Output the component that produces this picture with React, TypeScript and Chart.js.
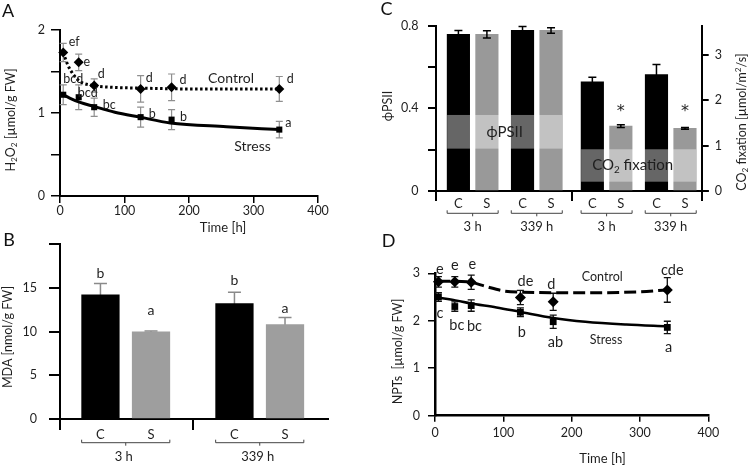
import React, { useEffect, useRef } from 'react';
import { Chart, registerables } from 'chart.js';

Chart.register(...registerables);

const FONT = 'Lato, "Open Sans", "DejaVu Sans", sans-serif';
Chart.defaults.font.family = FONT;
const INK = '#1f1f1f';
const W = 750;
const H = 466;

// ---------------- data ----------------
const sampleHours = [5, 29, 53, 125, 173, 340];
const timeTicks = [0, 100, 200, 300, 400];
const memberLabels = ['C', 'S'];

// A: H2O2
const h2o2Control = [1.73, 1.61, 1.33, 1.29, 1.31, 1.29];
const h2o2ControlErr = [0.11, 0.1, 0.08, 0.16, 0.16, 0.15];
const h2o2ControlLetters = ['ef', 'e', 'd', 'd', 'd', 'd'];
const h2o2Stress = [1.22, 1.19, 1.07, 0.95, 0.92, 0.8];
const h2o2StressErr = [0.12, 0.15, 0.11, 0.12, 0.12, 0.1];
const h2o2StressLetters = ['bcd', 'bcd', 'bc', 'b', 'b', 'a'];
const h2o2ControlFitHours = [5, 12, 21, 31, 52, 80, 125, 200, 340];
const h2o2ControlFit = [1.73, 1.58, 1.46, 1.38, 1.33, 1.31, 1.3, 1.29, 1.29];
const h2o2StressFitHours = [5, 15, 30, 52, 85, 124, 171, 258, 340];
const h2o2StressFit = [1.22, 1.18, 1.13, 1.08, 1.01, 0.95, 0.88, 0.835, 0.8];

// B: MDA
const mdaGroups = ['3 h', '339 h'];
const mdaControl = [14.2, 13.2];
const mdaControlErr = [1.3, 1.3];
const mdaStress = [9.95, 10.8];
const mdaStressErr = [0.1, 0.8];
const mdaControlLetters = ['b', 'b'];
const mdaStressLetters = ['a', 'a'];

// C: PhiPSII and CO2 fixation
const photoGroups = ['3 h', '339 h'];
const phiControl = [0.758, 0.777];
const phiControlErr = [0.019, 0.019];
const phiStress = [0.758, 0.777];
const phiStressErr = [0.017, 0.013];
const co2Control = [2.41, 2.57];
const co2ControlErr = [0.1, 0.22];
const co2Stress = [1.43, 1.38];
const co2StressErr = [0.03, 0.02];
const co2StressMarks = ['*', '*'];
const phiBandRange = [0.205, 0.368]; // left-axis units
const co2BandRange = [0.045, 0.202]; // left-axis units

// D: NPTs
const nptControl = [2.82, 2.82, 2.81, 2.49, 2.4, 2.65];
const nptControlErr = [0.11, 0.11, 0.15, 0.15, 0.18, 0.26];
const nptControlLetters = ['e', 'e', 'e', 'de', 'd', 'cde'];
const nptStress = [2.5, 2.3, 2.32, 2.18, 1.98, 1.86];
const nptStressErr = [0.09, 0.1, 0.12, 0.09, 0.14, 0.13];
const nptStressLetters = ['c', 'bc', 'bc', 'b', 'ab', 'a'];
const nptControlFitHours = [5, 30, 53, 75, 100, 130, 200, 300, 340];
const nptControlFit = [2.83, 2.83, 2.81, 2.72, 2.63, 2.6, 2.59, 2.61, 2.65];
const nptStressFitHours = [5, 30, 51, 90, 124, 173, 220, 280, 340];
const nptStressFit = [2.49, 2.43, 2.37, 2.28, 2.19, 2.06, 1.98, 1.92, 1.88];

// ---------------- layout (not data) ----------------
type Box = { left: number; top: number; right: number; bottom: number };
const boxA: Box = { left: 60, top: 30, right: 318, bottom: 196 };
const boxB: Box = { left: 60, top: 244, right: 328, bottom: 419 };
const boxC: Box = { left: 436, top: 25.7, right: 701.7, bottom: 191 };
const boxD: Box = { left: 435, top: 273.3, right: 708.3, bottom: 415.7 };

const offACtrl = [[11, -10], [8, 0], [7, -12], [8.5, -10.5], [11.5, -7], [11, -9.6]];
const offAStr = [[10, -16], [9, -4], [15, -2], [11.5, -3], [12, -3], [9, -7]];
const offDCtrl = [[1.5, -12.6], [0, -16.6], [1, -18], [5, -16], [-2, -17], [5, -19.4]];
const offDStr = [[1.5, 16.5], [2, 19.3], [3.3, 20.4], [1.3, 20], [2.3, 20.6], [1.4, 20]];
const letterDyB = { C: [-10, -12], S: [-21, -9] };
const starDyC = [-16, -19];

const BAR_B = 37.6;
const BAR_C = 22.5;
const posB = (g: number, m: number) => g * 2.65 + m;
const posC = (half: number, g: number, m: number) => half * 4.7 + g * 2.25 + m;
const B_MIN = -0.8, B_MAX = 4.5;
const C_MIN = -0.786, C_MAX = 8.537;

// ---------------- drawing helpers ----------------
type Seg = { t: string; s?: 'sub' | 'sup' };
function rich(ctx: CanvasRenderingContext2D, segs: Seg[], x: number, y: number, size: number,
  opts: { rot?: boolean; align?: 'center' | 'left' | 'right'; color?: string; family?: string } = {}) {
  ctx.save();
  ctx.translate(x, y);
  if (opts.rot) ctx.rotate(-Math.PI / 2);
  ctx.fillStyle = opts.color || INK;
  ctx.textBaseline = 'middle';
  ctx.textAlign = 'left';
  const fam = opts.family || FONT;
  const fontFor = (sg: Seg) => `${sg.s ? size * 0.66 : size}px ${fam}`;
  const widths = segs.map((sg) => { ctx.font = fontFor(sg); return ctx.measureText(sg.t).width; });
  const total = widths.reduce((a, b) => a + b, 0);
  let cx = opts.align === 'left' ? 0 : opts.align === 'right' ? -total : -total / 2;
  segs.forEach((sg, i) => {
    ctx.font = fontFor(sg);
    const dy = sg.s === 'sub' ? size * 0.3 : sg.s === 'sup' ? -size * 0.3 : 0;
    ctx.fillText(sg.t, cx, dy);
    cx += widths[i];
  });
  ctx.restore();
}
function txt(ctx: CanvasRenderingContext2D, s: string, x: number, y: number, size: number, opts: any = {}) {
  rich(ctx, [{ t: s }], x, y, size, opts);
}
function seg(ctx: CanvasRenderingContext2D, x0: number, y0: number, x1: number, y1: number, color: string, lw: number) {
  ctx.save();
  ctx.strokeStyle = color;
  ctx.lineWidth = lw;
  ctx.beginPath();
  ctx.moveTo(x0, y0);
  ctx.lineTo(x1, y1);
  ctx.stroke();
  ctx.restore();
}
function errorBar(ctx: CanvasRenderingContext2D, x: number, yTop: number, yBot: number, cap: number, color: string, lw: number) {
  ctx.save();
  ctx.strokeStyle = color;
  ctx.lineWidth = lw;
  ctx.beginPath();
  ctx.moveTo(x, yTop); ctx.lineTo(x, yBot);
  ctx.moveTo(x - cap, yTop); ctx.lineTo(x + cap, yTop);
  ctx.moveTo(x - cap, yBot); ctx.lineTo(x + cap, yBot);
  ctx.stroke();
  ctx.restore();
}
function bracket(ctx: CanvasRenderingContext2D, x0: number, x1: number, y: number) {
  ctx.save();
  ctx.strokeStyle = '#444';
  ctx.lineWidth = 1;
  ctx.beginPath();
  ctx.moveTo(x0, y - 3); ctx.lineTo(x0, y); ctx.lineTo(x1, y); ctx.lineTo(x1, y - 3);
  const m = (x0 + x1) / 2;
  ctx.moveTo(m, y); ctx.lineTo(m, y + 3);
  ctx.stroke();
  ctx.restore();
}
const pts = (xs: number[], ys: number[]) => xs.map((x, i) => ({ x, y: ys[i] }));

const baseOptions = (box: Box, rightAxis = false) => ({
  animation: false,
  responsive: false,
  devicePixelRatio: 1,
  layout: { padding: { left: 0, top: box.top, right: rightAxis ? 0 : W - box.right, bottom: 0 } },
  plugins: { legend: { display: false }, tooltip: { enabled: false } },
  events: [],
});
const axisLine = (w = 2) => ({ display: true, color: '#000', width: w });
const tickGrid = (len: number, lw = 1.5) => ({ drawOnChartArea: false, drawTicks: true, tickLength: len, color: '#000', lineWidth: lw, offset: false });
const tickFont = { family: FONT, size: 12.5 };

// ---------------- Panel A ----------------
function configA(): any {
  const plugin = {
    id: 'panelA',
    beforeDatasetsDraw(chart: any) {
      const ctx = chart.ctx, xs = chart.scales.x, ys = chart.scales.y;
      sampleHours.forEach((t, i) => {
        const px = xs.getPixelForValue(t);
        errorBar(ctx, px, ys.getPixelForValue(h2o2Control[i] + h2o2ControlErr[i]), ys.getPixelForValue(h2o2Control[i] - h2o2ControlErr[i]), 3.5, '#8f8f8f', 1.2);
        errorBar(ctx, px, ys.getPixelForValue(h2o2Stress[i] + h2o2StressErr[i]), ys.getPixelForValue(h2o2Stress[i] - h2o2StressErr[i]), 3.5, '#8f8f8f', 1.2);
      });
    },
    afterDraw(chart: any) {
      const ctx = chart.ctx, xs = chart.scales.x, ys = chart.scales.y;
      sampleHours.forEach((t, i) => {
        const px = xs.getPixelForValue(t);
        txt(ctx, h2o2ControlLetters[i], px + offACtrl[i][0], ys.getPixelForValue(h2o2Control[i]) + offACtrl[i][1], 12.5);
        txt(ctx, h2o2StressLetters[i], px + offAStr[i][0], ys.getPixelForValue(h2o2Stress[i]) + offAStr[i][1], 12.5);
      });
      txt(ctx, 'Control', 231, 78.7, 14);
      txt(ctx, 'Stress', 252.5, 146, 14);
      rich(ctx, [{ t: 'H' }, { t: '2', s: 'sub' }, { t: 'O' }, { t: '2', s: 'sub' }, { t: ' [µmol/g FW]' }], 11, 120, 12.5, { rot: true });
      txt(ctx, 'Time [h]', 223, 228, 13);
      txt(ctx, 'A', 8, 11, 18, { color: '#111' });
    },
  };
  return {
    type: 'line',
    data: {
      datasets: [
        { data: pts(h2o2ControlFitHours, h2o2ControlFit), borderColor: '#000', borderWidth: 3, borderDash: [2.5, 2.5], pointRadius: 0, cubicInterpolationMode: 'monotone', fill: false, order: 3, clip: false },
        { data: pts(h2o2StressFitHours, h2o2StressFit), borderColor: '#000', borderWidth: 3, pointRadius: 0, cubicInterpolationMode: 'monotone', fill: false, order: 3, clip: false },
        { data: pts(sampleHours, h2o2Control), showLine: false, pointStyle: 'rectRot', pointRadius: 5, backgroundColor: '#000', borderColor: '#000', borderWidth: 0, order: 1, clip: false },
        { data: pts(sampleHours, h2o2Stress), showLine: false, pointStyle: 'rect', pointRadius: 4.3, backgroundColor: '#000', borderColor: '#000', borderWidth: 0, order: 1, clip: false },
      ],
    },
    options: {
      ...baseOptions(boxA),
      scales: {
        x: {
          type: 'linear', min: 0, max: 400, z: 1,
          afterFit: (s: any) => { s.height = H - boxA.bottom; },
          afterBuildTicks: (s: any) => { s.ticks = timeTicks.map((v) => ({ value: v })); },
          border: axisLine(2), grid: tickGrid(7),
          ticks: { color: INK, font: tickFont, padding: 0, maxRotation: 0, autoSkip: false },
        },
        y: {
          type: 'linear', min: 0, max: 2, z: 1,
          afterFit: (s: any) => { s.width = boxA.left; },
          border: axisLine(2), grid: tickGrid(9),
          ticks: { stepSize: 0.5, color: INK, font: tickFont, padding: 6, autoSkip: false, callback: (v: number) => (Number.isInteger(v) ? String(v) : '') },
        },
      },
    },
    plugins: [plugin],
  };
}

// ---------------- Panel B ----------------
function configB(): any {
  const plugin = {
    id: 'panelB',
    beforeDatasetsDraw(chart: any) {
      const ctx = chart.ctx, xs = chart.scales.x, ys = chart.scales.y;
      mdaGroups.forEach((_, g) => {
        const xc = xs.getPixelForValue(posB(g, 0)), xsx = xs.getPixelForValue(posB(g, 1));
        errorBar(ctx, xc, ys.getPixelForValue(mdaControl[g] + mdaControlErr[g]), ys.getPixelForValue(mdaControl[g] - mdaControlErr[g]), 6.5, '#8a8a8a', 1.5);
        errorBar(ctx, xsx, ys.getPixelForValue(mdaStress[g] + mdaStressErr[g]), ys.getPixelForValue(mdaStress[g] - mdaStressErr[g]), 6.5, '#8a8a8a', 1.5);
      });
    },
    afterDraw(chart: any) {
      const ctx = chart.ctx, xs = chart.scales.x, ys = chart.scales.y, ca = chart.chartArea;
      seg(ctx, ca.left - 10, ca.bottom, ca.left, ca.bottom, '#000', 2);
      mdaGroups.forEach((label, g) => {
        const xc = xs.getPixelForValue(posB(g, 0)), xsx = xs.getPixelForValue(posB(g, 1));
        txt(ctx, mdaControlLetters[g], xc, ys.getPixelForValue(mdaControl[g] + mdaControlErr[g]) + letterDyB.C[g], 14);
        txt(ctx, mdaStressLetters[g], xsx, ys.getPixelForValue(mdaStress[g] + mdaStressErr[g]) + letterDyB.S[g], 14);
        txt(ctx, memberLabels[0], xc, 435, 13);
        txt(ctx, memberLabels[1], xsx, 435, 13);
        bracket(ctx, xc - BAR_B / 2, xsx + BAR_B / 2, 442.7);
        txt(ctx, label, (xc + xsx) / 2 - 2, 456.7, 13);
      });
      txt(ctx, 'MDA [nmol/g FW]', 8, 337, 12.5, { rot: true });
      txt(ctx, 'B', 9, 240, 18, { color: '#111' });
    },
  };
  return {
    type: 'bar',
    data: {
      datasets: [
        { data: mdaControl.map((v, g) => ({ x: posB(g, 0), y: v })), backgroundColor: '#000', barThickness: BAR_B, grouped: false },
        { data: mdaStress.map((v, g) => ({ x: posB(g, 1), y: v })), backgroundColor: '#9e9e9e', barThickness: BAR_B, grouped: false },
      ],
    },
    options: {
      ...baseOptions(boxB),
      scales: {
        x: {
          type: 'linear', min: B_MIN, max: B_MAX, offset: false, z: 1,
          afterFit: (s: any) => { s.height = H - boxB.bottom; },
          afterBuildTicks: (s: any) => { s.ticks = [{ value: B_MIN }, { value: (posB(0, 1) + posB(1, 0)) / 2 }]; },
          border: axisLine(2), grid: tickGrid(11, 2),
          ticks: { callback: () => '', autoSkip: false },
        },
        y: {
          type: 'linear', min: 0, max: 20, z: 1,
          afterFit: (s: any) => { s.width = boxB.left; },
          border: axisLine(2), grid: tickGrid(11, 2),
          ticks: { stepSize: 5, color: INK, font: tickFont, padding: 12, autoSkip: false, callback: (v: number) => (v === 20 ? '' : String(v)) },
        },
      },
    },
    plugins: [plugin],
  };
}

// ---------------- Panel C ----------------
function configC(): any {
  const plugin = {
    id: 'panelC',
    afterDatasetsDraw(chart: any) {
      const ctx = chart.ctx, xs = chart.scales.x, yl = chart.scales.y, yr = chart.scales.y1;
      const band = (half: number, range: number[]) => {
        const x0 = xs.getPixelForValue(posC(half, 0, 0)) - BAR_C / 2;
        const x1 = xs.getPixelForValue(posC(half, 1, 1)) + BAR_C / 2;
        const y0 = yl.getPixelForValue(range[1]), y1 = yl.getPixelForValue(range[0]);
        ctx.save();
        ctx.fillStyle = 'rgba(255,255,255,0.4)';
        ctx.fillRect(x0, y0, x1 - x0, y1 - y0);
        ctx.restore();
        return { cx: (x0 + x1) / 2, cy: (y0 + y1) / 2 };
      };
      const b1 = band(0, phiBandRange);
      const b2 = band(1, co2BandRange);
      txt(ctx, 'ϕPSII', b1.cx, b1.cy, 15);
      rich(ctx, [{ t: 'CO' }, { t: '2', s: 'sub' }, { t: ' fixation' }], b2.cx - 6, b2.cy, 15);
      photoGroups.forEach((_, g) => {
        const e = (x: number, sc: any, v: number, er: number) => errorBar(ctx, x, sc.getPixelForValue(v + er), sc.getPixelForValue(v - er), 4, '#000', 1.5);
        e(xs.getPixelForValue(posC(0, g, 0)), yl, phiControl[g], phiControlErr[g]);
        e(xs.getPixelForValue(posC(0, g, 1)), yl, phiStress[g], phiStressErr[g]);
        e(xs.getPixelForValue(posC(1, g, 0)), yr, co2Control[g], co2ControlErr[g]);
        const sx = xs.getPixelForValue(posC(1, g, 1));
        e(sx, yr, co2Stress[g], co2StressErr[g]);
        txt(ctx, co2StressMarks[g], sx, yr.getPixelForValue(co2Stress[g] + co2StressErr[g]) + starDyC[g] + 3, 16, { family: '"DejaVu Sans", sans-serif' });
      });
    },
    afterDraw(chart: any) {
      const ctx = chart.ctx, xs = chart.scales.x, ca = chart.chartArea;
      seg(ctx, ca.left - 7, ca.bottom, ca.left, ca.bottom, '#000', 2);
      seg(ctx, ca.right, ca.bottom, ca.right + 7, ca.bottom, '#000', 2);
      [0, 1].forEach((half) => {
        photoGroups.forEach((label, g) => {
          const xc = xs.getPixelForValue(posC(half, g, 0)), xsx = xs.getPixelForValue(posC(half, g, 1));
          txt(ctx, memberLabels[0], xc, 204, 13);
          txt(ctx, memberLabels[1], xsx, 204, 13);
          bracket(ctx, xc - BAR_C / 2, xsx + BAR_C / 2, 213.3);
          txt(ctx, label, (xc + xsx) / 2, 226.7, 13);
        });
      });
      txt(ctx, 'ϕPSII', 387.5, 106, 12.5, { rot: true });
      rich(ctx, [{ t: 'CO' }, { t: '2', s: 'sub' }, { t: ' fixation [µmol/m' }, { t: '2', s: 'sup' }, { t: '/s]' }], 742, 122, 12.5, { rot: true });
      txt(ctx, 'C', 386.5, 9, 18, { color: '#111' });
    },
  };
  return {
    type: 'bar',
    data: {
      datasets: [
        { data: phiControl.map((v, g) => ({ x: posC(0, g, 0), y: v })), yAxisID: 'y', backgroundColor: '#000', barThickness: BAR_C, grouped: false },
        { data: phiStress.map((v, g) => ({ x: posC(0, g, 1), y: v })), yAxisID: 'y', backgroundColor: '#999', barThickness: BAR_C, grouped: false },
        { data: co2Control.map((v, g) => ({ x: posC(1, g, 0), y: v })), yAxisID: 'y1', backgroundColor: '#000', barThickness: BAR_C, grouped: false },
        { data: co2Stress.map((v, g) => ({ x: posC(1, g, 1), y: v })), yAxisID: 'y1', backgroundColor: '#999', barThickness: BAR_C, grouped: false },
      ],
    },
    options: {
      ...baseOptions(boxC, true),
      scales: {
        x: {
          type: 'linear', min: C_MIN, max: C_MAX, offset: false, z: 1,
          afterFit: (s: any) => { s.height = H - boxC.bottom; },
          afterBuildTicks: (s: any) => { s.ticks = [{ value: C_MIN }, { value: (posC(0, 1, 1) + posC(1, 0, 0)) / 2 }, { value: C_MAX }]; },
          border: axisLine(2), grid: tickGrid(10, 2),
          ticks: { callback: () => '', autoSkip: false },
        },
        y: {
          type: 'linear', position: 'left', min: 0, max: 0.8, z: 1,
          afterFit: (s: any) => { s.width = boxC.left; },
          border: axisLine(2), grid: tickGrid(8, 2),
          ticks: {
            stepSize: 0.2, color: INK, font: tickFont, padding: 9.5, autoSkip: false,
            callback: (v: number) => (Math.abs(v) < 1e-6 ? '0' : Math.abs(v - 0.4) < 1e-6 ? '0.4' : Math.abs(v - 0.8) < 1e-6 ? '0.8' : ''),
          },
        },
        y1: {
          type: 'linear', position: 'right', min: 0, max: 3.647, z: 1,
          afterFit: (s: any) => { s.width = W - boxC.right; },
          afterBuildTicks: (s: any) => { s.ticks = [0, 1, 2, 3].map((v) => ({ value: v })); },
          border: axisLine(2), grid: tickGrid(7, 2),
          ticks: { color: INK, font: tickFont, padding: 6, autoSkip: false },
        },
      },
    },
    plugins: [plugin],
  };
}

// ---------------- Panel D ----------------
function configD(): any {
  const plugin = {
    id: 'panelD',
    beforeDatasetsDraw(chart: any) {
      const ctx = chart.ctx, xs = chart.scales.x, ys = chart.scales.y;
      sampleHours.forEach((t, i) => {
        const px = xs.getPixelForValue(t);
        errorBar(ctx, px, ys.getPixelForValue(nptControl[i] + nptControlErr[i]), ys.getPixelForValue(nptControl[i] - nptControlErr[i]), 3.5, '#111', 1.3);
        errorBar(ctx, px, ys.getPixelForValue(nptStress[i] + nptStressErr[i]), ys.getPixelForValue(nptStress[i] - nptStressErr[i]), 3.5, '#111', 1.3);
      });
    },
    afterDraw(chart: any) {
      const ctx = chart.ctx, xs = chart.scales.x, ys = chart.scales.y;
      sampleHours.forEach((t, i) => {
        const px = xs.getPixelForValue(t);
        txt(ctx, nptControlLetters[i], px + offDCtrl[i][0], ys.getPixelForValue(nptControl[i]) + offDCtrl[i][1], 14.5);
        txt(ctx, nptStressLetters[i], px + offDStr[i][0], ys.getPixelForValue(nptStress[i]) + offDStr[i][1], 14.5);
      });
      txt(ctx, 'Control', 602.3, 276.7, 12.5);
      txt(ctx, 'Stress', 606, 340, 12.5);
      txt(ctx, 'NPTs  [µmol/g FW]', 398, 351.5, 12.5, { rot: true });
      txt(ctx, 'Time [h]', 602.5, 459.3, 13);
      txt(ctx, 'D', 388.5, 241.5, 18, { color: '#111' });
    },
  };
  return {
    type: 'line',
    data: {
      datasets: [
        { data: pts(nptControlFitHours, nptControlFit), borderColor: '#000', borderWidth: 3, borderDash: [12, 5], pointRadius: 0, cubicInterpolationMode: 'monotone', fill: false, order: 3, clip: false },
        { data: pts(nptStressFitHours, nptStressFit), borderColor: '#000', borderWidth: 2.5, pointRadius: 0, cubicInterpolationMode: 'monotone', fill: false, order: 3, clip: false },
        { data: pts(sampleHours, nptControl), showLine: false, pointStyle: 'rectRot', pointRadius: 5.5, backgroundColor: '#000', borderColor: '#000', borderWidth: 0, order: 1, clip: false },
        { data: pts(sampleHours, nptStress), showLine: false, pointStyle: 'rect', pointRadius: 4.8, backgroundColor: '#000', borderColor: '#000', borderWidth: 0, order: 1, clip: false },
      ],
    },
    options: {
      ...baseOptions(boxD),
      scales: {
        x: {
          type: 'linear', min: 0, max: 400, z: 1,
          afterFit: (s: any) => { s.height = H - boxD.bottom; },
          afterBuildTicks: (s: any) => { s.ticks = timeTicks.map((v) => ({ value: v })); },
          border: axisLine(2.5), grid: tickGrid(6),
          ticks: { color: INK, font: tickFont, padding: 4, maxRotation: 0, autoSkip: false },
        },
        y: {
          type: 'linear', min: 0, max: 3, z: 1,
          afterFit: (s: any) => { s.width = boxD.left; },
          border: axisLine(2.5), grid: tickGrid(7),
          ticks: { stepSize: 1, color: INK, font: tickFont, padding: 8, autoSkip: false },
        },
      },
    },
    plugins: [plugin],
  };
}

export default function App() {
  const r0 = useRef<HTMLCanvasElement>(null);
  const r1 = useRef<HTMLCanvasElement>(null);
  const r2 = useRef<HTMLCanvasElement>(null);
  const r3 = useRef<HTMLCanvasElement>(null);
  const refs = [r0, r1, r2, r3];
  useEffect(() => {
    const cfgs = [configA(), configB(), configC(), configD()];
    const charts = cfgs.map((cfg, i) => new Chart(refs[i].current as HTMLCanvasElement, cfg));
    return () => charts.forEach((c) => c.destroy());
  }, []);
  return (
    <div style={{ position: 'absolute', left: 0, top: 0, width: W, height: H, background: '#fff', overflow: 'hidden' }}>
      {refs.map((r, i) => (
        <canvas key={i} ref={r} width={W} height={H} style={{ position: 'absolute', left: 0, top: 0, width: W, height: H }} />
      ))}
    </div>
  );
}
